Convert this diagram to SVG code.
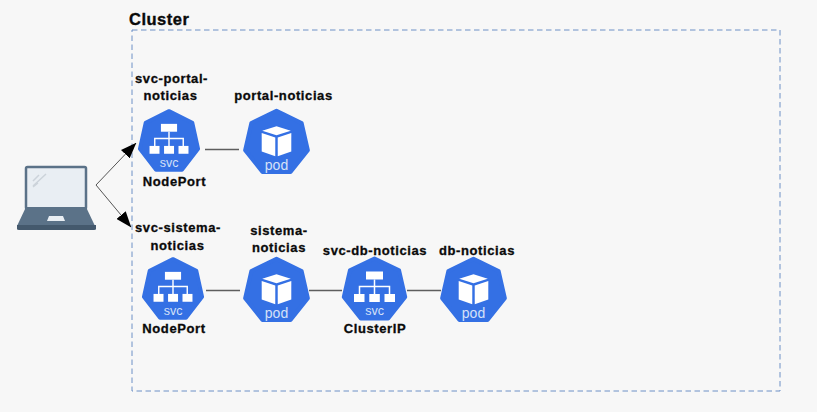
<svg xmlns="http://www.w3.org/2000/svg" width="817" height="412" viewBox="0 0 817 412">
<style>
text{font-family:"Liberation Sans",Arial,sans-serif}
.l{font-size:13px;font-weight:700;letter-spacing:.6px;fill:#0a0a0a;stroke:#0a0a0a;stroke-width:.3;text-anchor:middle}
.t{font-size:12.5px;fill:#d5e0f8;text-anchor:middle}
.p{font-size:14px;fill:#d5e0f8;text-anchor:middle}
.c{stroke:#5e5e5e;stroke-width:1.5;fill:none}
.a{stroke:#555;stroke-width:1;fill:none}
.h{fill:#3470e4;stroke:#3470e4;stroke-width:4;stroke-linejoin:round}
.w{fill:#fff}
.n{stroke:#fff;stroke-width:1.5;fill:none}
</style>
<defs>
<marker id="a" viewBox="0 0 16 12" refX="15.500" refY="6" markerWidth="16" markerHeight="12" markerUnits="userSpaceOnUse" orient="auto"><path d="M0 0L16 6L0 12Z" fill="#000"/></marker>
<symbol id="svc" overflow="visible"><path class="h" d="M0-31.500L24.600-19.600L30.700 7L13.700 28.400H-13.700L-30.700 7L-24.600-19.600Z"/>
<rect class="w" x="-8.500" y="-18.500" width="17" height="8"/><rect class="w" x="-20.500" y="4" width="10.500" height="8"/><rect class="w" x="-5.200" y="4" width="10.500" height="8"/><rect class="w" x="10" y="4" width="10.500" height="8"/>
<path class="n" d="M0-10.500V4M-15 4V-3.500H15V4"/></symbol>
<symbol id="pod" overflow="visible"><path class="h" d="M0-31.500L24.600-19.600L30.700 7L13.700 28.400H-13.700L-30.700 7L-24.600-19.600Z"/>
<path class="w" d="M0-16.500L14-12L0-7.600L-14-12Z"/><path class="w" d="M-14.500-9.800L-1.200-5.400V13L-14.500 8.400Z"/><path class="w" d="M14.500-9.800L1.200-5.400V13L14.500 8.400Z"/></symbol>
</defs>
<rect width="817" height="412" fill="#f7f7f7"/>
<text x="129" y="25" style="font-size:16.500px;font-weight:700;letter-spacing:.5px;fill:#0a0a0a;stroke:#0a0a0a;stroke-width:.35">Cluster</text>
<rect x="132" y="30" width="648" height="361" fill="none" stroke="#6c90c6" stroke-width="1" stroke-dasharray="5.500 3.500"/>
<g id="connectors">
<path class="c" d="M205 149.500H239M206 290.500H240M309 290.500H342M407 290.500H441"/>
<path class="a" d="M96 185L136 143" marker-end="url(#a)"/>
<path class="a" d="M96 185L131 227" marker-end="url(#a)"/>
</g>
<g id="laptop">
<rect x="26" y="167" width="60" height="42" rx="1.500" fill="#e9eef3" stroke="#5b7288" stroke-width="2.500"/>
<path d="M26 207H86L95 226H17Z" fill="#5b7288"/><path d="M17 225H96V229Q96 230 94 230H19Q17 230 17 229Z" fill="#44596d"/>
<path d="M49 216H63L65 221H47Z" fill="#e9eef3"/>
<path d="M33 181L39 175M33 186L46 174M33 187L38 183" stroke="#ccd3da" stroke-width="1.500" fill="none"/>
</g>
<g id="svc-portal-noticias"><use href="#svc" transform="translate(169 142) scale(.95 .98)"/><text class="t" x="169" y="167">svc</text>
<text class="l" x="171.500" y="83">svc-portal-</text><text class="l" x="170.500" y="100">noticias</text><text class="l" x="174.500" y="186">NodePort</text></g>
<g id="portal-noticias"><use href="#pod" transform="translate(276.500 143) scale(1.020)"/><text class="p" x="276.500" y="170">pod</text>
<text class="l" x="283.500" y="100">portal-noticias</text></g>
<g id="svc-sistema-noticias"><use href="#svc" transform="translate(173 290) scale(.95 .98)"/><text class="t" x="173" y="315">svc</text>
<text class="l" x="178" y="232">svc-sistema-</text><text class="l" x="177.500" y="250">noticias</text><text class="l" x="174" y="333">NodePort</text></g>
<g id="sistema-noticias"><use href="#pod" transform="translate(276.500 291) scale(1.020)"/><text class="p" x="276.500" y="318">pod</text>
<text class="l" x="279" y="235">sistema-</text><text class="l" x="279" y="252">noticias</text></g>
<g id="svc-db-noticias"><use href="#svc" x="374.500" y="290"/><text class="t" x="374.500" y="315">svc</text>
<text class="l" x="375" y="255">svc-db-noticias</text><text class="l" x="375" y="333">ClusterIP</text></g>
<g id="db-noticias"><use href="#pod" transform="translate(473.500 291) scale(1.020)"/><text class="p" x="473.500" y="318">pod</text>
<text class="l" x="477" y="255">db-noticias</text></g>
</svg>
